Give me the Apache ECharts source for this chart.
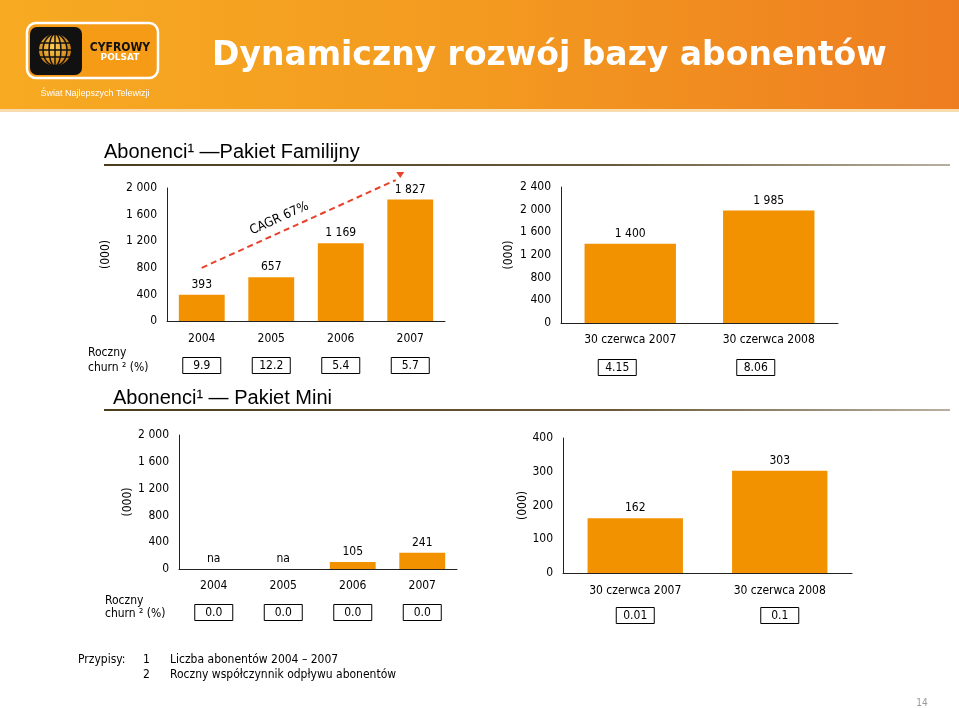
<!DOCTYPE html>
<html>
<head>
<meta charset="utf-8">
<script src="https://cdn.jsdelivr.net/npm/echarts@6/dist/echarts.min.js"></script>
<style>
  html, body { margin: 0; padding: 0; background: #fff; }
  #main { width: 959px; height: 708px; }
</style>
</head>
<body>
<div id="main"></div>
<script>
// dane z wykresu
var famYears = ['2004', '2005', '2006', '2007'];
var famValues = [393, 657, 1169, 1827];
var famChurn = ['9.9', '12.2', '5.4', '5.7'];

var halfDates = ['30 czerwca 2007', '30 czerwca 2008'];
var famHalfValues = [1400, 1985];
var famHalfChurn = ['4.15', '8.06'];

var miniYears = ['2004', '2005', '2006', '2007'];
var miniValues = ['na', 'na', 105, 241];
var miniChurn = ['0.0', '0.0', '0.0', '0.0'];

var miniHalfValues = [162, 303];
var miniHalfChurn = ['0.01', '0.1'];

// strzalka CAGR: od 2004 / 800 do okolic 2007 / 2150
var cagrText = 'CAGR 67%';
var cagrFrom = [0, 800];
var cagrTo = [3, 2150];

var FONT = 'DejaVu Sans Condensed';
var ORANGE = '#f39200';

function fmt(v) {
    return String(v).replace(/\B(?=(\d{3})+(?!\d))/g, ' ');
}

var myChart = echarts.init(document.getElementById('main'));

function mainX(grid, data, margin) {
    return {
        type: 'category', gridIndex: grid, data: data,
        axisLine: { lineStyle: { color: '#222', width: 1 } },
        axisTick: { show: false },
        axisLabel: { margin: margin, color: '#000', fontSize: 12, fontFamily: FONT, interval: 0 }
    };
}
function churnX(grid, data, margin, shift) {
    return {
        type: 'category', gridIndex: grid, data: data, position: 'bottom',
        axisLine: { show: false },
        axisTick: { show: false },
        axisLabel: {
            margin: margin, interval: 0,
            formatter: function (v) { return '{b|' + v + '}' + (shift ? '{s|}' : ''); },
            rich: {
                b: {
                    width: 38, height: 15, lineHeight: 15, align: 'center',
                    borderColor: '#000', borderWidth: 1, padding: [1, 0, 0, 0],
                    color: '#000', fontSize: 12, fontFamily: FONT
                },
                s: { width: shift || 0 }
            }
        }
    };
}
function valY(grid, max, interval, gap) {
    return {
        type: 'value', gridIndex: grid, min: 0, max: max, interval: interval,
        name: '(000)', nameLocation: 'middle', nameRotate: 90, nameGap: gap,
        nameTextStyle: { color: '#000', fontSize: 12, fontFamily: FONT },
        axisLine: { show: true, lineStyle: { color: '#222', width: 1 } },
        axisTick: { show: false },
        splitLine: { show: false },
        axisLabel: { margin: 10, color: '#000', fontSize: 12, fontFamily: FONT, formatter: fmt }
    };
}
function barSeries(x, y, data) {
    return {
        type: 'bar', xAxisIndex: x, yAxisIndex: y, data: data, barWidth: '66%',
        itemStyle: { color: ORANGE },
        label: {
            show: true, position: 'top', distance: 4, color: '#000',
            fontSize: 12, fontFamily: FONT,
            formatter: function (p) { return fmt(p.value); }
        },
        silent: true
    };
}

var miniData = miniValues.map(function (v) {
    return v === 'na' ? { value: 0, label: { formatter: 'na' } } : v;
});

function lineGrad() {
    return {
        type: 'linear', x: 0, y: 0, x2: 1, y2: 0,
        colorStops: [{ offset: 0, color: '#4a3c1c' }, { offset: 0.6, color: '#6b5a3a' }, { offset: 1, color: '#b8b0a0' }]
    };
}
function txt(x, y, text, size, extra) {
    var s = { text: text, x: x, y: y, fill: '#000', font: size + 'px "' + FONT + '"', textAlign: 'left', textVerticalAlign: 'middle' };
    for (var k in extra) s[k] = extra[k];
    return { type: 'text', style: s, silent: true };
}

var option = {
    backgroundColor: '#fff',
    animation: false,
    grid: [
        { left: 167, top: 188, width: 278, height: 133 },
        { left: 561, top: 187, width: 277, height: 136 },
        { left: 179, top: 435, width: 278, height: 134 },
        { left: 563, top: 438, width: 289, height: 135 }
    ],
    xAxis: [
        mainX(0, famYears, 12), churnX(0, famChurn, 37),
        mainX(1, halfDates, 11), churnX(1, famHalfChurn, 37, 26),
        mainX(2, miniYears, 11), churnX(2, miniChurn, 36),
        mainX(3, halfDates, 12), churnX(3, miniHalfChurn, 35)
    ],
    yAxis: [
        valY(0, 2000, 400, 55),
        valY(1, 2400, 400, 46),
        valY(2, 2000, 400, 45),
        valY(3, 400, 100, 34)
    ],
    series: [
        barSeries(0, 0, famValues),
        barSeries(2, 1, famHalfValues),
        barSeries(4, 2, miniData),
        barSeries(6, 3, miniHalfValues)
    ],
    graphic: [
        // naglowek
        { type: 'rect', shape: { x: 0, y: 0, width: 959, height: 109 }, silent: true,
          style: { fill: { type: 'linear', x: 0, y: 0, x2: 1, y2: 0,
            colorStops: [{ offset: 0, color: '#f7aa22' }, { offset: 0.5, color: '#f39a20' }, { offset: 1, color: '#ee7d20' }] } } },
        { type: 'rect', shape: { x: 0, y: 109, width: 959, height: 3 }, silent: true, style: { fill: '#f8dcae' } },
        // logo
        { type: 'rect', shape: { x: 27, y: 23, width: 131, height: 55, r: 9 }, silent: true,
          style: { fill: '#f59b16', stroke: '#fff', lineWidth: 2.5 } },
        { type: 'rect', shape: { x: 30, y: 27, width: 52, height: 48, r: 7 }, silent: true, style: { fill: '#111' } },
        { type: 'circle', shape: { cx: 55, cy: 50, r: 16 }, silent: true,
          style: { fill: { type: 'radial', x: 0.45, y: 0.4, r: 0.6,
            colorStops: [{ offset: 0, color: '#ffd25a' }, { offset: 1, color: '#c8780e' }] } } },
        { type: 'ellipse', shape: { cx: 55, cy: 50, rx: 6, ry: 16 }, silent: true, style: { fill: 'none', stroke: '#111', lineWidth: 1.5 } },
        { type: 'ellipse', shape: { cx: 55, cy: 50, rx: 12, ry: 16 }, silent: true, style: { fill: 'none', stroke: '#111', lineWidth: 1.5 } },
        { type: 'line', shape: { x1: 55, y1: 34, x2: 55, y2: 66 }, silent: true, style: { stroke: '#111', lineWidth: 1.5 } },
        { type: 'line', shape: { x1: 40, y1: 43, x2: 70, y2: 43 }, silent: true, style: { stroke: '#111', lineWidth: 1.5 } },
        { type: 'line', shape: { x1: 39, y1: 50, x2: 71, y2: 50 }, silent: true, style: { stroke: '#111', lineWidth: 1.5 } },
        { type: 'line', shape: { x1: 40, y1: 57, x2: 70, y2: 57 }, silent: true, style: { stroke: '#111', lineWidth: 1.5 } },
        txt(120, 48, 'CYFROWY', 12, { textAlign: 'center', font: 'bold 12px "DejaVu Sans Condensed", "DejaVu Sans"', fill: '#111' }),
        txt(120, 58, 'POLSAT', 9, { textAlign: 'center', font: 'bold 9px "DejaVu Sans"', fill: '#fff' }),
        txt(95, 94, 'Świat Najlepszych Telewizji', 9, { textAlign: 'center', font: '9px "Liberation Sans"', fill: '#fff' }),
        txt(212, 56, 'Dynamiczny rozwój bazy abonentów', 33, { font: 'bold 33px "DejaVu Sans"', fill: '#fff' }),
        // tytuly sekcji
        txt(104, 152, 'Abonenci¹ —Pakiet Familijny', 20, { font: '20px "Liberation Sans"' }),
        { type: 'line', shape: { x1: 104, y1: 165, x2: 950, y2: 165 }, silent: true, style: { stroke: lineGrad(), lineWidth: 2 } },
        txt(113, 398, 'Abonenci¹ — Pakiet Mini', 20, { font: '20px "Liberation Sans"' }),
        { type: 'line', shape: { x1: 104, y1: 410, x2: 950, y2: 410 }, silent: true, style: { stroke: lineGrad(), lineWidth: 2 } },
        // churn
        txt(88, 353, 'Roczny', 12),
        txt(88, 368, 'churn ² (%)', 12),
        txt(105, 601, 'Roczny', 12),
        txt(105, 614, 'churn ² (%)', 12),
        // przypisy
        txt(78, 660, 'Przypisy:', 12),
        txt(143, 660, '1', 12),
        txt(170, 660, 'Liczba abonentów 2004 – 2007', 12),
        txt(143, 675, '2', 12),
        txt(170, 675, 'Roczny współczynnik odpływu abonentów', 12),
        txt(922, 703, '14', 10, { textAlign: 'center', fill: '#999' })
    ]
};
myChart.setOption(option);

// strzalka CAGR liczona przez skale osi
function drawCagr() {
    var p0 = myChart.convertToPixel({ xAxisIndex: 0, yAxisIndex: 0 }, cagrFrom);
    var p1 = myChart.convertToPixel({ xAxisIndex: 0, yAxisIndex: 0 }, cagrTo);
    p1[0] -= 10;
    var ang = Math.atan2(p1[1] - p0[1], p1[0] - p0[0]);
    var mx = (p0[0] + p1[0]) / 2, my = (p0[1] + p1[1]) / 2;
    var nx = Math.sin(ang), ny = -Math.cos(ang);
    myChart.setOption({
        graphic: [
            { id: 'cagrLine', type: 'line', silent: true,
              shape: { x1: p0[0], y1: p0[1], x2: p1[0] - 5 * Math.cos(ang), y2: p1[1] - 5 * Math.sin(ang) },
              style: { stroke: '#e8412c', lineWidth: 2, lineDash: [6, 4] } },
            { id: 'cagrHead', type: 'polygon', silent: true,
              shape: { points: [[p1[0] - 4, p1[1] - 6], [p1[0] + 4, p1[1] - 6], [p1[0], p1[1]]] },
              style: { fill: '#e8412c' } },
            { id: 'cagrText', type: 'text', silent: true,
              x: mx - 18 * Math.cos(ang) + 13 * nx, y: my - 18 * Math.sin(ang) + 13 * ny, rotation: -ang,
              style: { text: cagrText, fill: '#000', font: '13px "' + FONT + '"', textAlign: 'center', textVerticalAlign: 'middle' } }
        ]
    });
}
drawCagr();

window.addEventListener('resize', function () {
    myChart.resize();
    drawCagr();
});
</script>
</body>
</html>
